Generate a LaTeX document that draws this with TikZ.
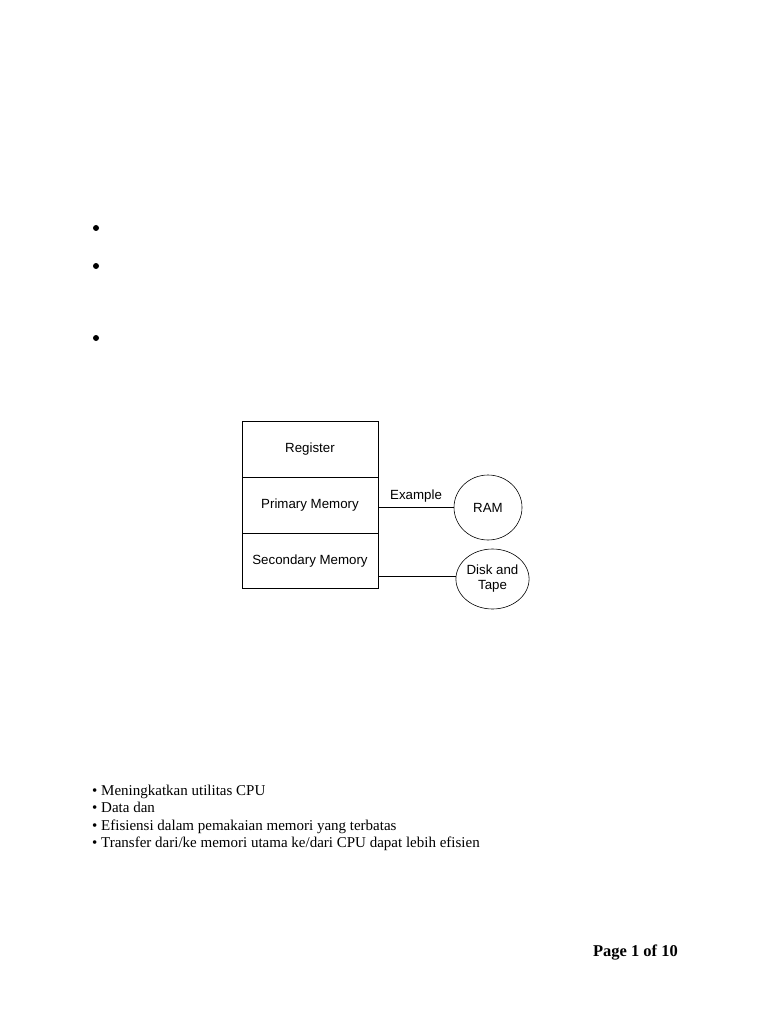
\documentclass[tikz,border=0pt]{standalone}
\usepackage{fontspec}
\setmainfont{Liberation Serif}
\newfontfamily\diagfont{Liberation Sans}
\usetikzlibrary{shapes.geometric}
\begin{document}
\begin{tikzpicture}[x=1pt,y=-1pt,
  layer/.style={draw,line width=0.8pt,minimum width=136pt,minimum height=55.7pt,inner sep=0pt,font=\diagfont\fontsize{13.3}{15}\selectfont},
  bubble/.style={draw,ellipse,line width=0.6pt,inner sep=0pt,font=\diagfont\fontsize{13.3}{15}\selectfont,align=center},
  link/.style={line width=0.6pt},
  dot/.style={circle,fill=black,inner sep=0pt,minimum size=6pt},
  item/.style={anchor=base west,inner sep=0pt,font=\fontsize{15}{18}\selectfont}]
\useasboundingbox[fill=white] (0,0) rectangle (768,1024);
% empty bullets
\node[dot] (b1) at (96,228) {};
\node[dot] (b2) at (96,266) {};
\node[dot] (b3) at (96,338) {};
% memory hierarchy
\node[layer] (reg) at (310,449.5) {Register};
\node[layer] (pri) at (310,505.2) {Primary Memory};
\node[layer] (sec) at (310,561) {Secondary Memory};
\node[bubble,minimum width=68pt,minimum height=65pt] (ram) at (488,507.5) {RAM};
\node[bubble,minimum width=71pt,minimum height=60pt] (disk) at (492.5,579) {Disk and\\Tape};
\draw[link] (pri.east |- 0,507) -- node[above=1pt,font=\diagfont\fontsize{13.3}{15}\selectfont] (ex) {Example} (ram.west |- 0,507);
\draw[link] (sec.east |- 0,576) -- (disk.west |- 0,576);
% list
\node[item] (l1) at (92,795) {• Meningkatkan utilitas CPU};
\node[item] (l2) at (92,812.5) {• Data dan};
\node[item] (l3) at (92,830) {• Efisiensi dalam pemakaian memori yang terbatas};
\node[item] (l4) at (92,847.5) {• Transfer dari/ke memori utama ke/dari CPU dapat lebih efisien};
\node[anchor=base east,inner sep=0pt,font=\bfseries\fontsize{16.5}{20}\selectfont] (pg) at (678,956) {Page 1 of 10};
\end{tikzpicture}
\end{document}
